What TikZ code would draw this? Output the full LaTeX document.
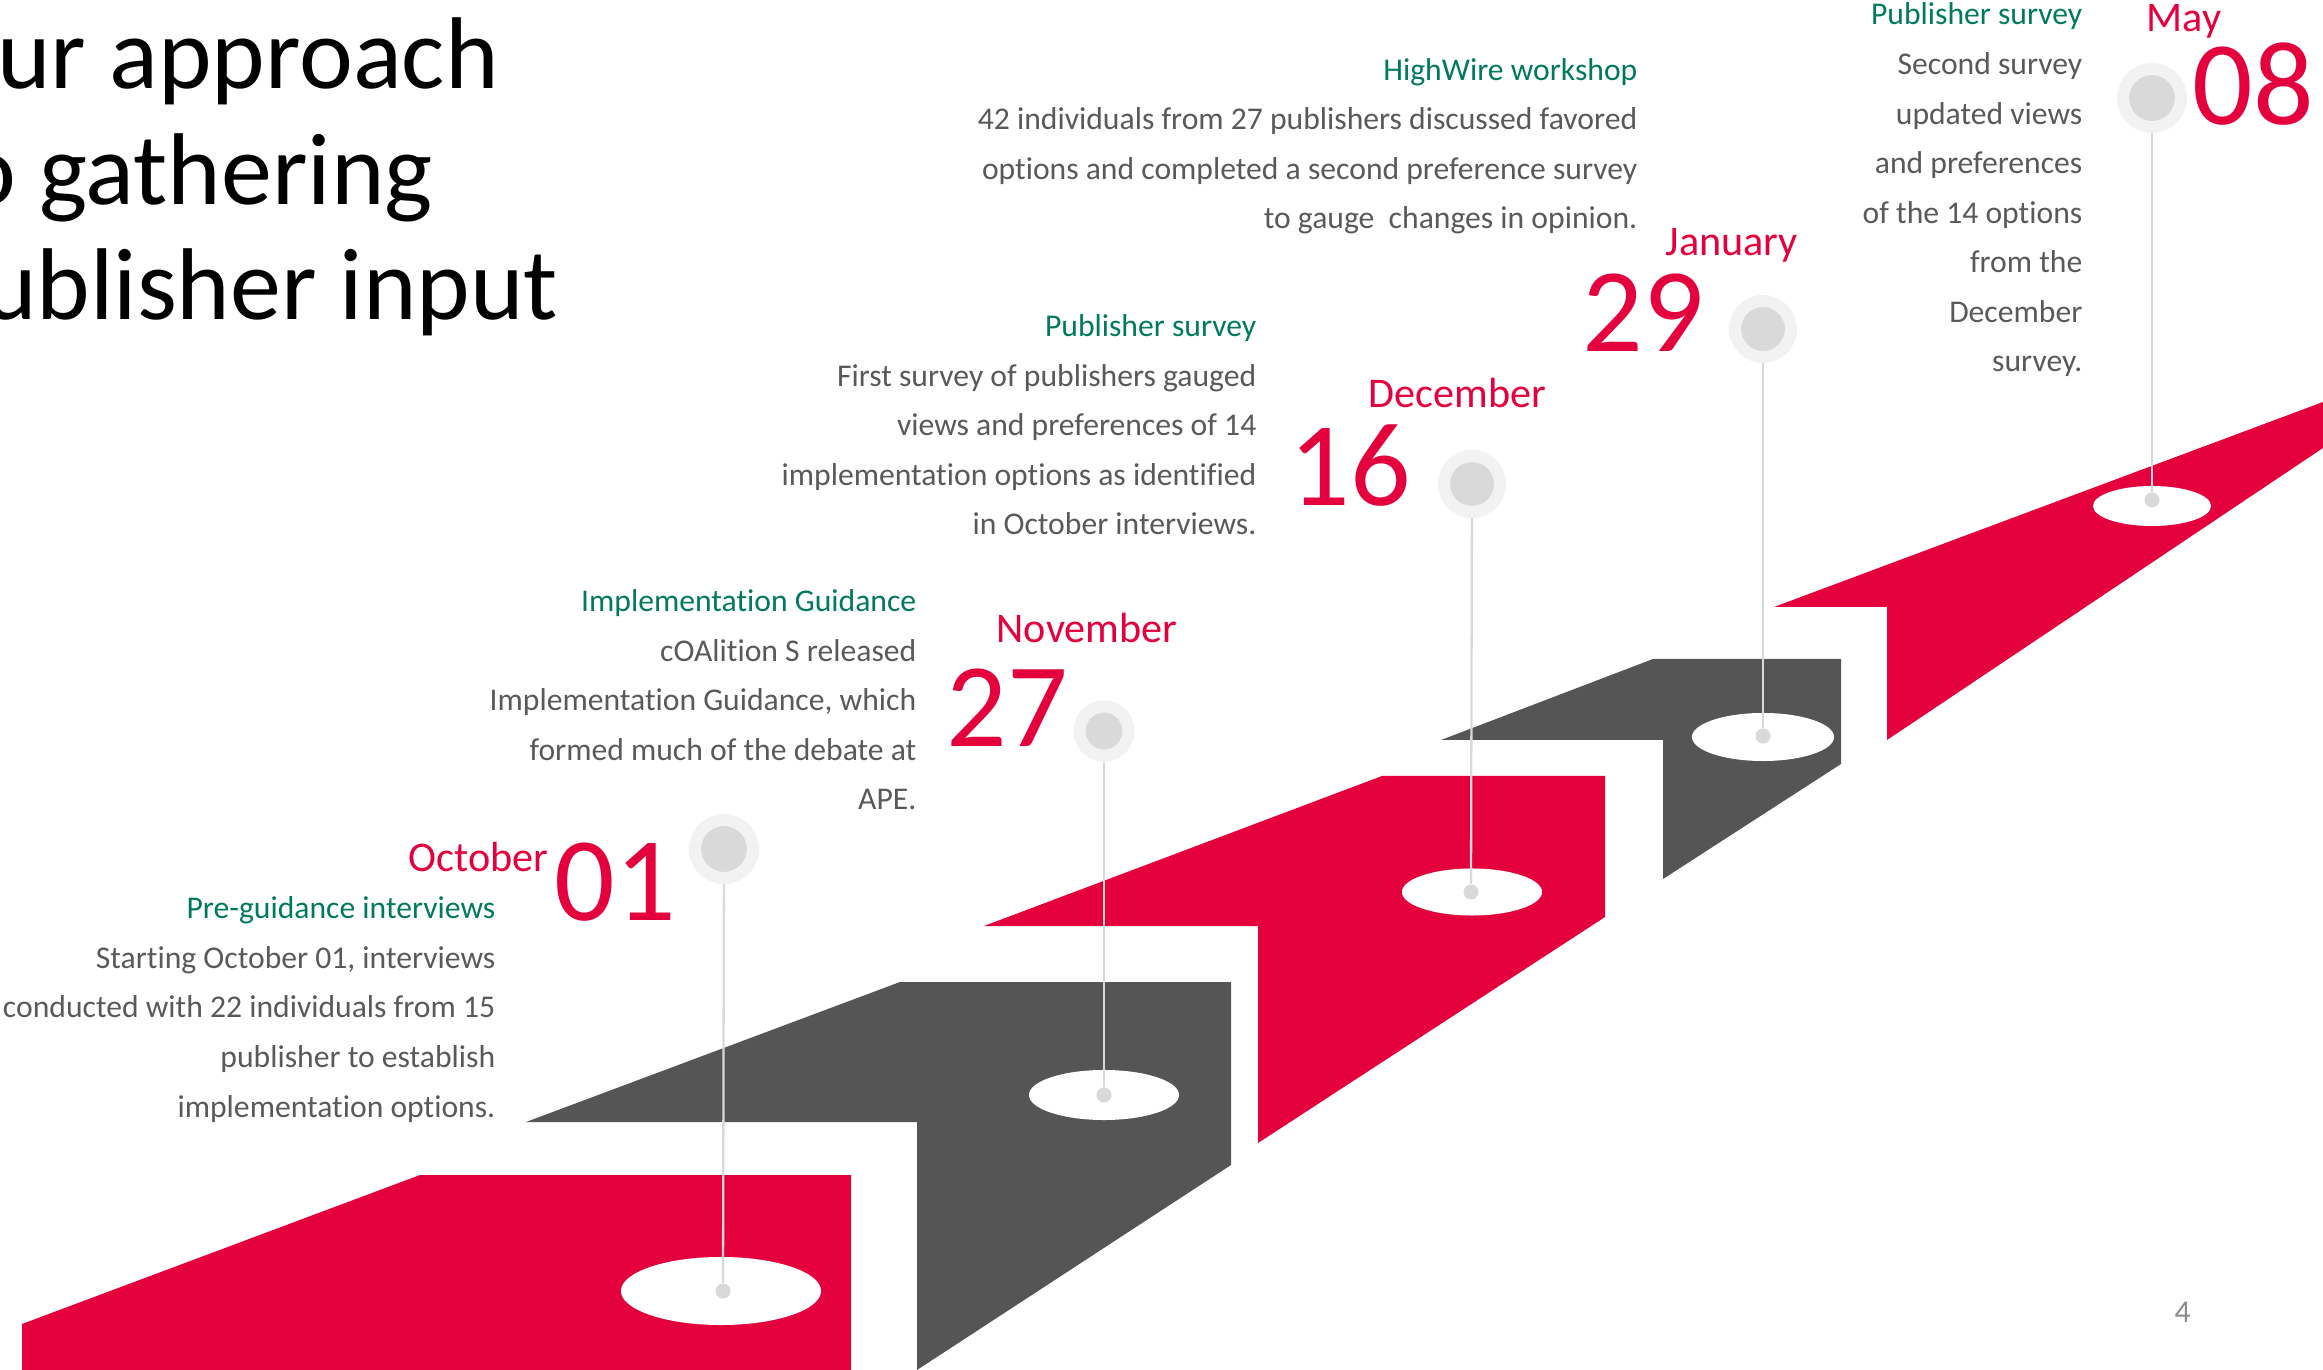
\documentclass[tikz,border=0pt]{standalone}
\usepackage{fontspec}
\setmainfont{Carlito}[Ligatures=NoCommon]
\usetikzlibrary{shapes.geometric}
\definecolor{brandred}{HTML}{E3003D}
\definecolor{slate}{HTML}{555555}
\definecolor{headgreen}{HTML}{00795F}
\definecolor{bodygray}{HTML}{595959}
\definecolor{pinring}{HTML}{F2F2F2}
\definecolor{pincore}{HTML}{D9D9D9}
\tikzset{
  stair/.style={fill=#1},
  blurb/.style={anchor=base east, align=right, inner sep=0, text=bodygray, font=\fontsize{9}{14.1}\selectfont},
  month/.style={anchor=base west, inner sep=0, text=brandred, font=\fontsize{12}{14}\selectfont},
  datenum/.style={anchor=base west, inner sep=0, text=brandred, font=\fontsize{34}{40}\selectfont},
  marker/.style={circle, inner sep=0, minimum size=#1, fill=pincore, draw=pinring, line width=1.2mm},
  marker/.default=5.6mm,
  peg/.style={circle, inner sep=0, minimum size=1.5mm, fill=pincore},
  disc/.style={ellipse, fill=white, inner sep=0},
  stem/.style={draw=pincore, line width=0.65pt},
}

\begin{document}
\begin{tikzpicture}[x=0.01cm, y=-0.01cm]
      \useasboundingbox (0,0) rectangle (2323,1370);
      \clip (0,0) rectangle (2323,1370);

      \fill[stair=brandred] (22,1370) -- (22,1324) -- (420,1175) -- (851,1175) -- (851,1370) -- cycle;
      \fill[stair=slate] (526,1122) -- (900,982) -- (1231,982) -- (1231,1165) -- (917,1370) -- (917,1122) -- cycle;
      \fill[stair=brandred] (984,926) -- (1382,776) -- (1605,776) -- (1605,917) -- (1258,1143) -- (1258,926) -- cycle;
      \fill[stair=slate] (1441,740) -- (1653,659) -- (1841,659) -- (1841,764) -- (1663,879) -- (1663,740) -- cycle;
      \fill[stair=brandred] (1774,607) -- (2323,402) -- (2323,448) -- (1887,740) -- (1887,607) -- cycle;

      \node[disc, minimum width=2cm, minimum height=0.68cm] (disc1) at (721,1291) {};
      \node[disc, minimum width=1.5cm, minimum height=0.5cm] (disc2) at (1104,1095) {};
      \node[disc, minimum width=1.4cm, minimum height=0.47cm] (disc3) at (1472,892) {};
      \node[disc, minimum width=1.42cm, minimum height=0.48cm] (disc4) at (1763,737) {};
      \node[disc, minimum width=1.18cm, minimum height=0.4cm] (disc5) at (2152,506) {};

      \node[peg] (peg1) at (723,1291) {};
      \node[peg] (peg2) at (1104,1095) {};
      \node[peg] (peg3) at (1471,892) {};
      \node[peg] (peg4) at (1763,736) {};
      \node[peg] (peg5) at (2152,500) {};

      \node[marker=5.8mm] (pin1) at (724,849) {};
      \node[marker=4.9mm] (pin2) at (1104,731) {};
      \node[marker] (pin3) at (1472,484) {};
      \node[marker] (pin4) at (1763,329) {};
      \node[marker=5.8mm] (pin5) at (2152,98) {};

      \draw[stem] (pin1) -- (peg1);
      \draw[stem] (pin2) -- (peg2);
      \draw[stem] (pin3) -- (peg3);
      \draw[stem] (pin4) -- (peg4);
      \draw[stem] (pin5) -- (peg5);

      \node[anchor=base west, align=left, inner sep=0, font=\fontsize{29}{32.9}\selectfont] (title) at (-71,320) {Our approach\\to gathering\\publisher input};

      \node[month] (oct) at (408,872) {October};
      \node[datenum] (d01) at (554,920) {01};
      \node[month] (nov) at (996,643) {November};
      \node[datenum] (d27) at (946,747) {27};
      \node[month] (dec) at (1368,408) {December};
      \node[datenum] (d16) at (1289,506) {16};
      \node[month] (jan) at (1665,256) {January};
      \node[datenum] (d29) at (1582,352) {29};
      \node[month] (may) at (2146,32) {May};
      \node[datenum] (d08) at (2192,125) {08};

      \node[blurb] (interviews) at (496,1117) {\textcolor{headgreen}{Pre-guidance interviews}\\Starting October 01, interviews\\conducted with 22 individuals from 15\\publisher to establish\\implementation options.};
      \node[blurb] (guidance) at (917,810) {\textcolor{headgreen}{Implementation Guidance}\\cOAlition S released\\Implementation Guidance, which\\formed much of the debate at\\APE.};
      \node[blurb] (survey1) at (1257,535) {\textcolor{headgreen}{Publisher survey}\\First survey of publishers gauged\\views and preferences of 14\\implementation options as identified\\in October interviews.};
      \node[blurb] (workshop) at (1638,229) {\textcolor{headgreen}{HighWire workshop}\\42 individuals from 27 publishers discussed favored\\options and completed a second preference survey\\to gauge~ changes in opinion.};
      \node[blurb] (survey2) at (2083,372) {\textcolor{headgreen}{Publisher survey}\\Second survey\\updated views\\and preferences\\of the 14 options\\from the\\December\\survey.};

      \node[anchor=base west, inner sep=0, text=black!45, font=\fontsize{9}{11}\selectfont] (pagenum) at (2174,1322) {4};
    \end{tikzpicture}
\end{document}
